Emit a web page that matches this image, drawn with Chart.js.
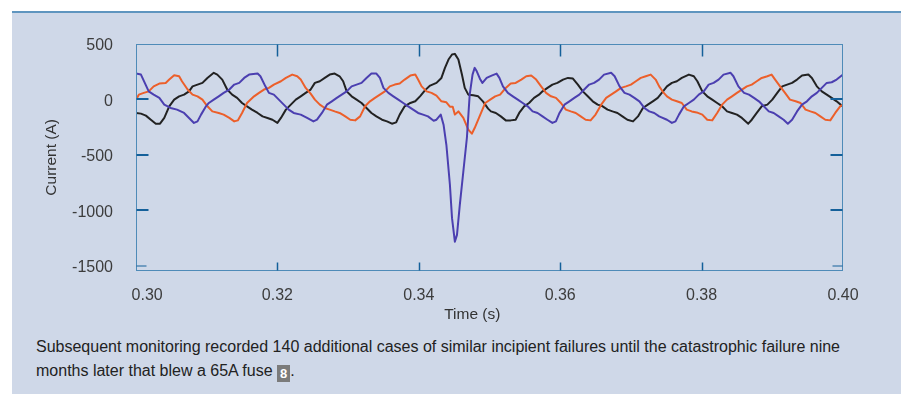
<!DOCTYPE html>
<html><head><meta charset="utf-8">
<script src="https://cdn.jsdelivr.net/npm/chart.js@4.4.1/dist/chart.umd.min.js"></script>
<style>
html,body{margin:0;padding:0;background:#fff;width:901px;height:396px;overflow:hidden;}
#panel{position:absolute;left:12px;top:11px;width:889px;height:383px;background:#cfd8e8;border-top:2px solid #5f95bf;box-sizing:border-box;}
#wrap{position:absolute;left:0;top:0;width:901px;height:330px;}
#cap{position:absolute;left:36px;top:335px;font-family:"Liberation Sans",Arial,sans-serif;font-size:16px;line-height:23.5px;color:#222;white-space:nowrap;}
.ref{display:inline-block;background:#7b7b7b;color:#fff;font-weight:bold;font-size:13px;line-height:17px;padding:0 3px;vertical-align:-2px;}
</style></head><body>
<div id="panel"></div>
<div id="wrap"><canvas id="c" width="901" height="330" style="width:901px;height:330px"></canvas></div>
<div id="cap">Subsequent monitoring recorded 140 additional cases of similar incipient failures until the catastrophic failure nine<br>months later that blew a 65A fuse <span class="ref">8</span>.</div>
<script>
const xTicks = [0.30, 0.32, 0.34, 0.36, 0.38, 0.40];
const xTickLabels = ['\u00a0\u00a0\u00a0\u00a0\u00a00.30', '0.32', '0.34', '0.36', '0.38', '0.40'];
const yTicks = [500, 0, -500, -1000, -1500];
const yTickLabels = ['500', '0', '-500', '-1000', '-1500'];

const blackT = [0.3000,0.3007,0.3014,0.3021,0.3028,0.3034,0.3040,0.3047,0.3054,0.3061,
0.3068,0.3075,0.3080,0.3087,0.3094,0.3101,0.3110,0.3115,0.3122,0.3129,
0.3136,0.3143,0.3150,0.3157,0.3164,0.3172,0.3179,0.3186,0.3193,0.3200,
0.3205,0.3212,0.3219,0.3226,0.3233,0.3240,0.3247,0.3253,0.3260,0.3267,
0.3274,0.3281,0.3288,0.3293,0.3298,0.3305,0.3312,0.3319,0.3326,0.3333,
0.3340,0.3348,0.3355,0.3362,0.3368,0.3373,0.3380,0.3388,0.3395,0.3402,
0.3409,0.3416,0.3425,0.3432,0.3437,0.3442,0.3447,0.3451,0.3456,0.3461,
0.3465,0.3470,0.3477,0.3484,0.3491,0.3498,0.3502,0.3509,0.3516,0.3523,
0.3530,0.3537,0.3542,0.3549,0.3556,0.3563,0.3570,0.3575,0.3582,0.3589,
0.3596,0.3604,0.3611,0.3618,0.3625,0.3632,0.3639,0.3646,0.3653,0.3660,
0.3667,0.3674,0.3681,0.3688,0.3695,0.3703,0.3710,0.3717,0.3724,0.3731,
0.3738,0.3744,0.3751,0.3758,0.3765,0.3772,0.3782,0.3789,0.3794,0.3801,
0.3808,0.3815,0.3822,0.3829,0.3836,0.3843,0.3850,0.3857,0.3866,0.3871,
0.3878,0.3885,0.3893,0.3900,0.3907,0.3914,0.3921,0.3928,0.3935,0.3942,
0.3951,0.3956,0.3963,0.3970,0.3977,0.3984,0.3991,0.4000];
const blackI = [-122,-128,-146,-183,-219,-219,-167,-62,-2,28,
43,73,118,134,149,194,240,224,179,89,
43,14,-32,-62,-92,-122,-153,-167,-183,-212,
-167,-92,-47,-2,28,59,89,149,164,194,
224,233,209,164,73,28,-2,-32,-77,-122,
-153,-183,-198,-219,-207,-137,-62,-32,-17,30,
84,125,149,194,285,360,405,411,360,224,
104,43,37,28,-20,-83,-108,-122,-153,-189,
-189,-183,-122,-62,-32,14,43,73,104,134,
149,179,194,188,134,73,28,-17,-47,-62,
-92,-108,-122,-153,-183,-198,-153,-77,-47,-17,
14,61,118,149,164,194,224,209,164,73,
28,-2,-32,-62,-108,-122,-137,-167,-219,-183,
-122,-62,-47,-2,59,118,134,149,179,215,
224,194,118,73,43,14,-17,-65];

const blueT = [0.3000,0.3007,0.3018,0.3025,0.3033,0.3040,0.3049,0.3058,0.3068,0.3075,
0.3082,0.3087,0.3092,0.3099,0.3103,0.3110,0.3117,0.3124,0.3132,0.3139,
0.3146,0.3153,0.3160,0.3172,0.3176,0.3183,0.3188,0.3195,0.3202,0.3209,
0.3216,0.3223,0.3233,0.3242,0.3251,0.3256,0.3263,0.3270,0.3277,0.3284,
0.3291,0.3298,0.3305,0.3312,0.3319,0.3326,0.3333,0.3340,0.3345,0.3350,
0.3357,0.3364,0.3371,0.3378,0.3385,0.3392,0.3399,0.3406,0.3413,0.3421,
0.3425,0.3431,0.3435,0.3439,0.3444,0.3447,0.3451,0.3454,0.3458,0.3463,
0.3468,0.3472,0.3476,0.3479,0.3482,0.3487,0.3490,0.3496,0.3503,0.3510,
0.3514,0.3519,0.3526,0.3533,0.3540,0.3547,0.3554,0.3561,0.3568,0.3575,
0.3582,0.3589,0.3594,0.3599,0.3606,0.3613,0.3620,0.3627,0.3634,0.3641,
0.3648,0.3655,0.3662,0.3672,0.3677,0.3684,0.3691,0.3698,0.3705,0.3712,
0.3719,0.3726,0.3733,0.3740,0.3751,0.3758,0.3763,0.3768,0.3775,0.3782,
0.3789,0.3796,0.3803,0.3810,0.3817,0.3824,0.3831,0.3841,0.3845,0.3852,
0.3860,0.3867,0.3874,0.3881,0.3888,0.3895,0.3902,0.3909,0.3916,0.3922,
0.3928,0.3935,0.3942,0.3949,0.3956,0.3963,0.3970,0.3977,0.3984,0.3991,0.4000];
const blueI = [233,224,73,43,14,-47,-77,-92,-122,-167,
-212,-198,-137,-62,-32,-2,28,59,89,134,
149,194,224,233,209,118,59,43,-2,-47,
-92,-122,-137,-167,-198,-183,-122,-47,-17,14,
43,73,118,134,149,194,233,233,194,104,
59,28,-2,-32,-62,-92,-122,-137,-153,-192,
-183,-137,-228,-409,-770,-1071,-1283,-1222,-951,-650,
-348,43,224,285,254,179,149,194,215,233,
194,118,59,28,-2,-32,-62,-108,-122,-153,
-183,-212,-198,-122,-47,-17,14,43,89,134,
149,179,224,240,209,118,59,43,14,-17,
-77,-108,-122,-153,-183,-212,-198,-137,-62,-32,
-2,43,73,134,149,179,224,240,209,118,
59,43,14,-17,-62,-108,-122,-153,-183,-219,
-183,-108,-47,-17,28,59,104,149,155,179,224];

const orangeT = [0.3000,0.3004,0.3011,0.3018,0.3025,0.3033,0.3042,0.3047,0.3054,0.3061,
0.3065,0.3073,0.3080,0.3087,0.3094,0.3101,0.3108,0.3117,0.3124,0.3132,
0.3139,0.3144,0.3150,0.3157,0.3167,0.3174,0.3181,0.3188,0.3195,0.3205,
0.3212,0.3221,0.3228,0.3233,0.3240,0.3247,0.3253,0.3260,0.3267,0.3274,
0.3281,0.3288,0.3296,0.3303,0.3310,0.3317,0.3324,0.3331,0.3338,0.3345,
0.3352,0.3359,0.3366,0.3373,0.3380,0.3388,0.3395,0.3399,0.3404,0.3411,
0.3418,0.3425,0.3432,0.3439,0.3444,0.3448,0.3451,0.3456,0.3463,0.3470,
0.3475,0.3479,0.3487,0.3494,0.3501,0.3508,0.3515,0.3523,0.3530,0.3537,
0.3545,0.3552,0.3559,0.3566,0.3573,0.3580,0.3587,0.3594,0.3601,0.3608,
0.3615,0.3622,0.3629,0.3636,0.3643,0.3650,0.3658,0.3665,0.3672,0.3679,
0.3686,0.3693,0.3700,0.3707,0.3714,0.3721,0.3728,0.3735,0.3740,0.3745,
0.3751,0.3758,0.3765,0.3772,0.3779,0.3786,0.3793,0.3801,0.3808,0.3815,
0.3822,0.3829,0.3836,0.3843,0.3850,0.3857,0.3864,0.3871,0.3878,0.3885,
0.3893,0.3899,0.3904,0.3911,0.3918,0.3925,0.3933,0.3940,0.3947,0.3954,
0.3961,0.3968,0.3975,0.3982,0.3989,0.3996,0.4000];
const orangeI = [-2,43,59,73,118,143,149,179,218,209,
164,89,43,28,-2,-62,-108,-122,-137,-167,
-198,-189,-122,-32,28,59,89,104,134,164,
194,224,209,179,104,52,-2,-47,-77,-92,
-108,-122,-153,-183,-189,-153,-62,-17,14,43,
73,118,134,143,179,215,224,179,118,73,
59,34,-17,-26,-65,-65,-137,-108,-167,-273,
-309,-258,-137,-32,-2,28,43,104,143,149,
179,209,215,179,118,59,28,14,-32,-92,
-108,-122,-153,-183,-189,-137,-47,14,43,73,
104,118,134,164,194,209,224,179,118,71,
28,-2,-17,-32,-92,-108,-117,-137,-183,-189,
-122,-47,-2,28,59,89,118,134,164,194,
209,224,179,118,59,-2,-17,-32,-92,-108,
-122,-153,-183,-189,-122,-62,-47];

const FONT = '"Liberation Sans", Arial, Helvetica, sans-serif';
function pts(t, v){ const n = Math.min(t.length, v.length); const out=[]; for(let i=0;i<n;i++) out.push({x:t[i], y:v[i]}); return out; }

const framePlugin = {
  id: 'frame',
  afterDatasetsDraw(chart){
    const {ctx, chartArea:a, scales:{x, y}} = chart;
    const L = Math.round(a.left)+0.5, R = Math.round(a.right)-0.5, T = Math.round(a.top)+0.5, B = Math.round(a.bottom)-0.5;
    ctx.save();
    ctx.strokeStyle = '#4f8bb8'; ctx.lineWidth = 1;
    ctx.strokeRect(L, T, R-L, B-T);
    ctx.strokeStyle = '#14609a';
    const line=(x1,y1,x2,y2)=>{ctx.beginPath();ctx.moveTo(x1,y1);ctx.lineTo(x2,y2);ctx.stroke();};
    yTicks.forEach(v=>{
      if (v >= 500) return;
      const py = Math.round(y.getPixelForValue(v));
      ctx.lineWidth = v <= -1500 ? 1 : 2;
      const len = v <= -1500 ? 10 : 12;
      line(L, py, L+len, py); line(R-len, py, R, py);
    });
    xTicks.forEach(v=>{
      if (v <= 0.3001 || v >= 0.3999) return;
      const px = Math.round(x.getPixelForValue(v))+0.5;
      ctx.lineWidth = 1.5;
      line(px, T, px, T+12); line(px, B-8, px, B);
    });
    ctx.restore();
  }
};

new Chart(document.getElementById('c'), {
  type: 'line',
  data: { datasets: [
    { label:'Phase B', data: pts(blueT, blueI), borderColor:'#4b3fb0' },
    { label:'Phase C', data: pts(orangeT, orangeI), borderColor:'#ec5f2a' },
    { label:'Phase A', data: pts(blackT, blackI), borderColor:'#222222' }
  ]},
  options: {
    responsive:false, animation:false, devicePixelRatio:1,
    layout:{padding:{left:0, right:58, top:44, bottom:0}},
    plugins:{legend:{display:false}, tooltip:{enabled:false}},
    elements:{point:{radius:0}, line:{borderWidth:2, tension:0, borderJoinStyle:'round', fill:false}},
    scales:{
      x:{type:'linear', min:0.30, max:0.40,
        afterBuildTicks:s=>{ s.ticks = xTicks.map(v=>({value:v})); },
        afterFit:s=>{ s.height = 59.3; },
        grid:{display:false, drawTicks:false}, border:{display:false},
        ticks:{padding:15, color:'#3c3c3c', font:{family:FONT, size:16}, maxRotation:0, autoSkip:false,
          callback:(v,i)=>xTickLabels[i]},
        title:{display:true, text:'Time (s)\u00a0\u00a0\u00a0\u00a0\u00a0\u00a0\u00a0\u00a0', color:'#333', font:{family:FONT, size:15.5}, padding:{top:0,bottom:6}}
      },
      y:{type:'linear', min:-1545, max:500,
        afterBuildTicks:s=>{ s.ticks = yTicks.map(v=>({value:v})); },
        afterFit:s=>{ s.width = 136; },
        grid:{display:false, drawTicks:false}, border:{display:false},
        ticks:{padding:23, color:'#3c3c3c', font:{family:FONT, size:16}, autoSkip:false, labelOffset:2,
          callback:(v,i)=>yTickLabels[i]},
        title:{display:true, text:'Current (A)', color:'#333', font:{family:FONT, size:15.5}, padding:{top:42,bottom:0}}
      }
    }
  },
  plugins:[framePlugin]
});
</script>
</body></html>
